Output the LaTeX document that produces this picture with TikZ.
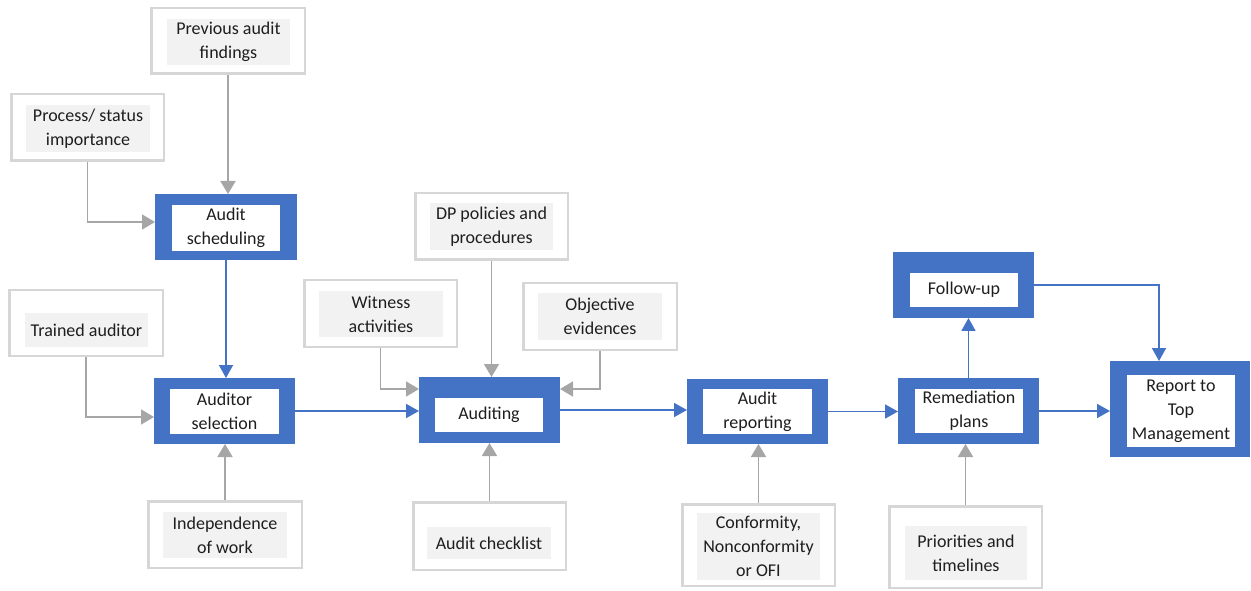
\documentclass[tikz,border=0pt]{standalone}
\usepackage{fontspec}
\setmainfont{Carlito}
\usetikzlibrary{arrows.meta}
\definecolor{bblue}{HTML}{4472C4}
\definecolor{gbord}{HTML}{D6D6D6}
\definecolor{gfill}{HTML}{F2F2F2}
\definecolor{garrow}{HTML}{A6A6A6}
\definecolor{txt}{HTML}{1E1E1E}
% outer box: style, name, x1, y1, x2, y2 (pixel coords, y down)
\newcommand\obox[6]{\node[#1, minimum width={((#5)-(#3))*1pt}, minimum height={((#6)-(#4))*1pt}] (#2) at ({((#3)+(#5))/2},{590-((#4)+(#6))/2}) {};}
% gray outer box, drawn border inset by half the line width
\newcommand\gbox[5]{\node[goutbox, minimum width={((#4)-(#2)-2.5)*1pt}, minimum height={((#5)-(#3)-2.5)*1pt}] (#1) at ({((#2)+(#4))/2},{590-((#3)+(#5))/2}) {};}
% text box: style, name, x1, y1, x2, y2, text
\newcommand\tbox[7]{\node[#1, minimum width={((#5)-(#3))*1pt}, minimum height={((#6)-(#4))*1pt}] (#2) at ({((#3)+(#5))/2},{590-((#4)+(#6))/2}) {#7};}
\tikzset{
  boutbox/.style={fill=bblue, inner sep=0pt, outer sep=0pt},
  goutbox/.style={draw=gbord, line width=2.5pt, inner sep=0pt},
  bintext/.style={fill=white, inner sep=0pt, outer sep=0pt, align=center, text=txt, font=\fontsize{18}{24}\selectfont},
  gintext/.style={fill=gfill, inner sep=0pt, outer sep=0pt, align=center, text=txt, font=\fontsize{18}{24}\selectfont},
  barr/.style={draw=bblue, line width=1.7pt, -{Triangle[length=13pt,width=14pt]}},
  garr/.style={draw=garrow, line width=1.8pt, -{Triangle[length=13pt,width=15pt]}},
}
\begin{document}
\begin{tikzpicture}[x=1pt,y=1pt]
\useasboundingbox (0,0) rectangle (1251,590);
% blue process boxes
\obox{boutbox}{sched}{155}{194}{297}{260}
\tbox{bintext}{sched-t}{172}{205}{280}{251}{Audit\\scheduling}
\obox{boutbox}{sel}{154}{378}{295}{444}
\tbox{bintext}{sel-t}{170}{389}{279}{434}{Auditor\\selection}
\obox{boutbox}{aud}{419}{377}{560}{443}
\tbox{bintext}{aud-t}{435}{398}{543}{432}{Auditing}
\obox{boutbox}{rep}{687}{379}{828}{444}
\tbox{bintext}{rep-t}{703}{389}{812}{434}{Audit\\reporting}
\obox{boutbox}{rem}{898}{378}{1039}{444}
\tbox{bintext}{rem-t}{915}{389}{1023}{433}{Remediation\\plans}
\obox{boutbox}{fu}{893}{252}{1034}{318}
\tbox{bintext}{fu-t}{910}{273}{1018}{307}{Follow-up}
\obox{boutbox}{rtm}{1110}{361}{1250}{457}
\tbox{bintext}{rtm-t}{1127}{375}{1235}{447}{Report to\\Top\\Management}
% gray input boxes
\gbox{pf}{150}{7}{306}{75}
\tbox{gintext}{pf-t}{167}{19}{290}{65}{Previous audit\\findings}
\gbox{proc}{10}{93}{165}{162}
\tbox{gintext}{proc-t}{26}{105}{150}{152}{Process/ status\\importance}
\gbox{tr}{8}{289}{164}{357}
\tbox{gintext}{tr-t}{25}{313}{148}{347}{Trained auditor}
\gbox{ind}{147}{500}{303}{569}
\tbox{gintext}{ind-t}{163}{512}{287}{558}{Independence\\of work}
\gbox{dp}{414}{192}{569}{261}
\tbox{gintext}{dp-t}{430}{203}{553}{250}{DP policies and\\procedures}
\gbox{wit}{303}{279}{458}{348}
\tbox{gintext}{wit-t}{319}{291}{443}{337}{Witness\\activities}
\gbox{obj}{522}{282}{678}{351}
\tbox{gintext}{obj-t}{538}{293}{662}{340}{Objective\\evidences}
\gbox{chk}{412}{501}{567}{571}
\tbox{gintext}{chk-t}{427}{527}{551}{559}{Audit checklist}
\gbox{conf}{681}{503}{836}{587}
\tbox{gintext}{conf-t}{697}{513}{820}{580}{Conformity,\\Nonconformity\\or OFI}
\gbox{pri}{888}{505}{1043}{589}
\tbox{gintext}{pri-t}{905}{526}{1027}{580}{Priorities and\\timelines}
% connectors
\draw[garr] (pf.south) -- (pf.south |- sched.north);
\draw[garr] (proc.south) |- ([yshift=5pt]sched.west);
\draw[barr] (sched.south) -- (sched.south |- sel.north);
\draw[garr] (tr.south) |- ([yshift=-6pt]sel.west);
\draw[garr] (ind.north) -- (ind.north |- sel.south);
\draw[barr] (sel.east) -- (sel.east -| aud.west);
\draw[garr] (wit.south) |- ([yshift=21pt]aud.west);
\draw[garr] (dp.south) -- (dp.south |- aud.north);
\draw[garr] (obj.south) |- ([yshift=21pt]aud.east);
\draw[garr] (chk.north) -- (chk.north |- aud.south);
\draw[barr] (aud.east) -- (aud.east -| rep.west);
\draw[barr] (rep.east) -- (rep.east -| rem.west);
\draw[garr] (conf.north) -- (conf.north |- rep.south);
\draw[garr] (pri.north) -- (pri.north |- rem.south);
\draw[barr] (rem.north) -- (rem.north |- fu.south);
\draw[barr] (rem.east) -- (rem.east -| rtm.west);
\draw[barr] (fu.east) -| ([xshift=-21pt]rtm.north);
\end{tikzpicture}
\end{document}
